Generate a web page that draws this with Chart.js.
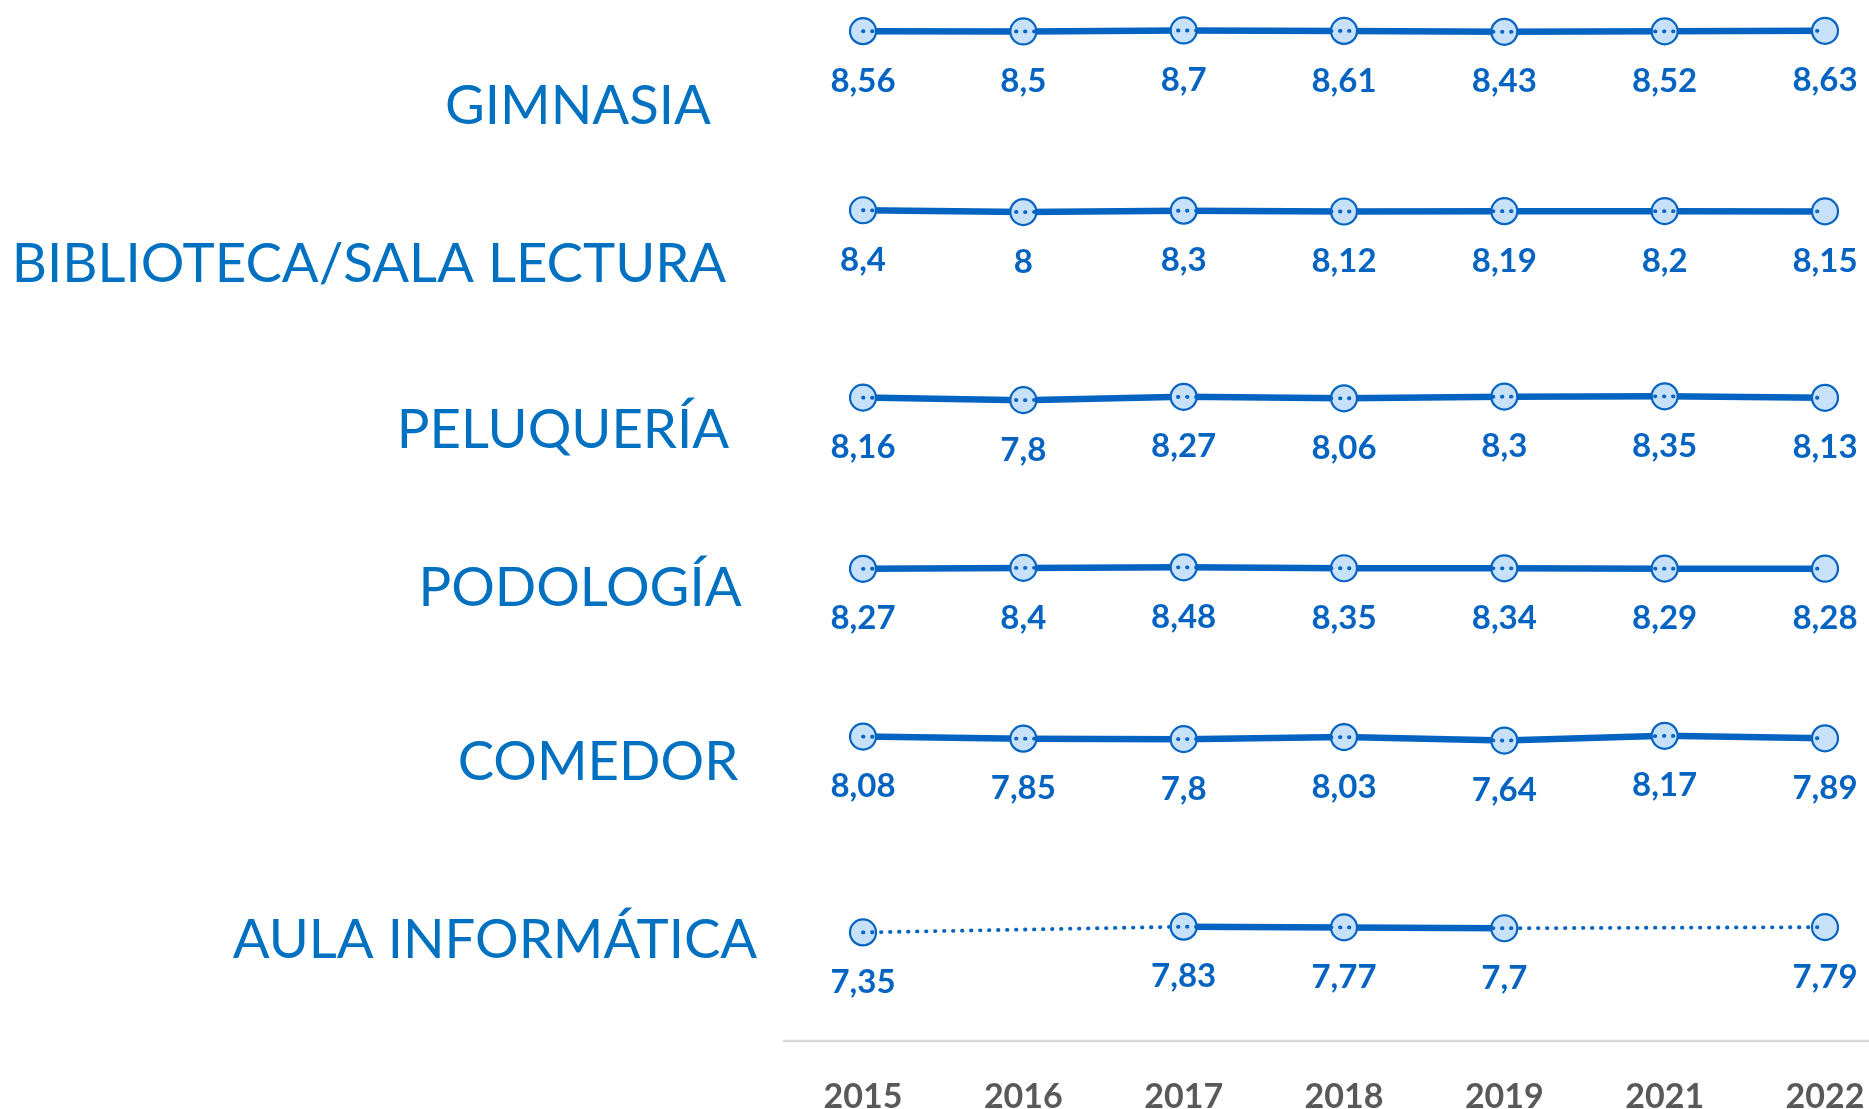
<!DOCTYPE html>
<html>
<head>
<meta charset="utf-8">
<script src="https://cdn.jsdelivr.net/npm/chart.js@4"></script>
<style>
  html, body { margin: 0; padding: 0; background: #fff; }
  #wrap { width: 1869px; height: 1109px; }
</style>
</head>
<body>
<div id="wrap"><canvas id="chart"></canvas></div>
<script>
const years = ['2015', '2016', '2017', '2018', '2019', '2021', '2022'];
const services = ['GIMNASIA', 'BIBLIOTECA/SALA LECTURA', 'PELUQUERÍA', 'PODOLOGÍA', 'COMEDOR', 'AULA INFORMÁTICA'];

const gimnasia   = [8.56, 8.5, 8.7, 8.61, 8.43, 8.52, 8.63];
const biblioteca = [8.4, 8, 8.3, 8.12, 8.19, 8.2, 8.15];
const peluqueria = [8.16, 7.8, 8.27, 8.06, 8.3, 8.35, 8.13];
const podologia  = [8.27, 8.4, 8.48, 8.35, 8.34, 8.29, 8.28];
const comedor    = [8.08, 7.85, 7.8, 8.03, 7.64, 8.17, 7.89];
const aula       = [7.35, null, 7.83, 7.77, 7.7, null, 7.79];

const rows = [gimnasia, biblioteca, peluqueria, podologia, comedor, aula];

// every service gets its own thin y axis, stacked top to bottom
const rowRange = [[-19.9, 14.8], [-21.9, 16.6], [-9.35, 15.45], [-9.55, 15.25], [-6.4, 12.9], [-1.65, 12.85]];
// big service names (center x, center y)
const namePos = [[578, 106], [369, 264], [563, 430], [580, 588], [598, 762], [495, 940]];

const BLUE = '#0563C1';

const datasets = [];
rows.forEach((vals, i) => {
    datasets.push({
        label: services[i],
        data: vals,
        yAxisID: 'y' + i,
        borderColor: BLUE,
        borderWidth: 6.5,
        pointRadius: 13,
        pointBackgroundColor: '#C8E1FA',
        pointBorderColor: BLUE,
        pointBorderWidth: 2.2,
        spanGaps: false,
        tension: 0,
        clip: false,
        order: 1
    });
    // dotted trace that also bridges missing years
    datasets.push({
        label: services[i] + ' (tendencia)',
        data: vals,
        yAxisID: 'y' + i,
        borderColor: BLUE,
        borderWidth: 3.8,
        borderDash: [0.5, 8.5],
        borderCapStyle: 'round',
        pointRadius: 0,
        spanGaps: true,
        tension: 0,
        clip: false,
        order: 0,
        dotted: true
    });
});

const scales = {
    x: {
        type: 'category',
        offset: false,
        grid: { display: false, drawTicks: false },
        border: { display: false },
        ticks: {
            color: '#595959',
            font: { family: 'Lato', weight: 'bold', size: 34, lineHeight: 1 },
            padding: 40,
            autoSkip: false,
            maxRotation: 0
        },
        afterFit(s) { s.paddingLeft = 0; s.paddingRight = 0; s.height = 69; }
    }
};
rows.forEach((r, i) => {
    scales['y' + i] = {
        type: 'linear',
        display: false,
        position: 'left',
        stack: 'rows',
        stackWeight: 1,
        weight: rows.length - i,
        min: rowRange[i][0],
        max: rowRange[i][1]
    };
});

const decorations = {
    id: 'decorations',
    afterDraw(chart) {
        const ctx = chart.ctx;
        const area = chart.chartArea;
        ctx.save();
        // axis line
        ctx.strokeStyle = '#D9D9D9';
        ctx.lineWidth = 2.5;
        ctx.beginPath();
        ctx.moveTo(783, area.bottom + 1);
        ctx.lineTo(chart.width, area.bottom + 1);
        ctx.stroke();

        // value labels
        ctx.font = 'bold 33px Lato';
        ctx.fillStyle = BLUE;
        ctx.textAlign = 'center';
        ctx.textBaseline = 'middle';
        chart.data.datasets.forEach((ds, di) => {
            if (ds.dotted) return;
            chart.getDatasetMeta(di).data.forEach((pt, j) => {
                const v = ds.data[j];
                if (v == null) return;
                ctx.fillText(String(v).replace('.', ','), pt.x, pt.y + 50);
            });
        });

        // service names
        ctx.font = '54.5px Lato';
        ctx.fillStyle = '#0070C0';
        services.forEach((name, i) => {
            ctx.fillText(name, namePos[i][0], namePos[i][1]);
        });
        ctx.restore();
    }
};

new Chart(document.getElementById('chart'), {
    type: 'line',
    data: { labels: years, datasets: datasets },
    options: {
        responsive: true,
        maintainAspectRatio: false,
        animation: false,
        layout: { autoPadding: false, padding: { left: 863, right: 44, top: 0, bottom: 0 } },
        scales: scales,
        plugins: {
            legend: { display: false },
            tooltip: { enabled: false }
        }
    },
    plugins: [decorations]
});
</script>
</body>
</html>
